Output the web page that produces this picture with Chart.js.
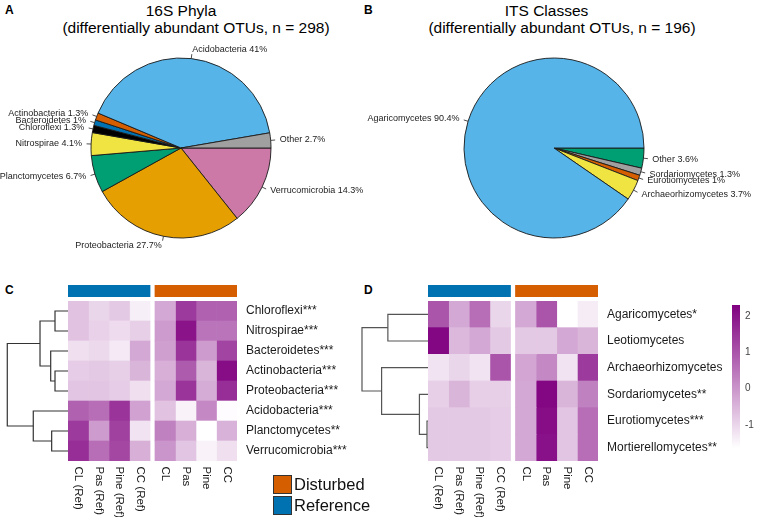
<!DOCTYPE html>
<html>
<head>
<meta charset="utf-8">
<script src="https://cdn.jsdelivr.net/npm/chart.js@4.4.0/dist/chart.umd.min.js"></script>
<style>
  body { margin: 0; width: 758px; height: 524px; position: relative; overflow: hidden; background: #fff;
         font-family: "Liberation Sans", Arial, sans-serif; }
  canvas { position: absolute; }
  .tag { position: absolute; font-weight: bold; font-size: 12px; line-height: 14px; color: #000; }
  .ttl { position: absolute; width: 400px; text-align: center; font-size: 15.5px; line-height: 17px; color: #000; white-space: nowrap; }
  .key { position: absolute; left: 273px; width: 19px; height: 19px; box-sizing: border-box; border: 1px solid #333; }
  .keytxt { position: absolute; left: 294px; font-size: 16.5px; line-height: 19px; color: #111; }
</style>
</head>
<body>
<div class="tag" style="left:5px;top:3px">A</div>
<div class="tag" style="left:364px;top:3px">B</div>
<div class="tag" style="left:5px;top:283px">C</div>
<div class="tag" style="left:364px;top:283px">D</div>

<div class="ttl" style="left:-19px;top:2px">16S Phyla</div>
<div class="ttl" style="left:-4px;top:18.5px">(differentially abundant OTUs, n = 298)</div>
<div class="ttl" style="left:346.5px;top:2px">ITS Classes</div>
<div class="ttl" style="left:362px;top:18.5px">(differentially abundant OTUs, n = 196)</div>

<canvas id="pieA" width="402" height="256" style="left:-20px;top:0"></canvas>
<canvas id="pieB" width="408" height="256" style="left:350px;top:0"></canvas>

<canvas id="stripC" width="169" height="12" style="left:68px;top:285px"></canvas>
<canvas id="dendC" width="68" height="160" style="left:0;top:301px"></canvas>
<canvas id="heatC" width="284" height="216" style="left:68px;top:301px"></canvas>

<canvas id="stripD" width="170" height="12" style="left:428px;top:285px"></canvas>
<canvas id="dendD" width="73" height="160" style="left:355px;top:301px"></canvas>
<canvas id="heatD" width="300" height="216" style="left:428px;top:301px"></canvas>
<canvas id="scaleD" width="30" height="153" style="left:728px;top:300px"></canvas>

<div class="key" style="top:475px;background:#D55E00"></div>
<div class="keytxt" style="top:475px">Disturbed</div>
<div class="key" style="top:496px;background:#0072B2"></div>
<div class="keytxt" style="top:496px">Reference</div>

<script>
// pie A: 16S phyla, in counter-clockwise order starting at 3 o'clock
const phylaNames = ['Other', 'Acidobacteria', 'Actinobacteria', 'Bacteroidetes', 'Chloroflexi',
                    'Nitrospirae', 'Planctomycetes', 'Proteobacteria', 'Verrucomicrobia'];
const phylaPct = [2.7, 41, 1.3, 1, 1.3, 4.1, 6.7, 27.7, 14.3];
const phylaColors = ['#A0A0A0', '#56B4E9', '#D55E00', '#0072B2', '#000000',
                     '#F0E442', '#009E73', '#E69F00', '#CC79A7'];

// pie B: ITS classes
const classNames = ['Agaricomycetes', 'Archaeorhizomycetes', 'Eurotiomycetes', 'Sordariomycetes', 'Other'];
const classPct = [90.4, 3.7, 1, 1.3, 3.6];
const classColors = ['#56B4E9', '#F0E442', '#D55E00', '#A0A0A0', '#009E73'];

// heatmap columns (shared)
const sites = ['CL (Ref)', 'Pas (Ref)', 'Pine (Ref)', 'CC (Ref)', 'CL', 'Pas', 'Pine', 'CC'];
const siteGroups = ['Reference', 'Disturbed'];
const groupColors = ['#0072B2', '#D55E00'];

// heatmap C
const rowsC = ['Chloroflexi***', 'Nitrospirae***', 'Bacteroidetes***', 'Actinobacteria***',
               'Proteobacteria***', 'Acidobacteria***', 'Planctomycetes**', 'Verrucomicrobia***'];
const heatC = [
  [-0.7, -1.0, -0.8, -1.4, -0.3, 1.4, 0.8, 0.8],
  [-0.7, -0.95, -1.1, -0.9, -0.1, 2.0, 0.5, 0.5],
  [-1.15, -1.05, -1.3, -0.3, -0.15, 1.5, -0.1, 1.25],
  [-0.85, -0.8, -0.9, -0.5, -0.4, 0.9, -0.5, 2.1],
  [-0.75, -0.75, -0.85, -1.15, -0.3, 1.5, -0.35, 1.6],
  [0.8, 0.6, 1.5, -0.2, -0.7, -1.45, 0.2, -1.6],
  [1.4, -0.1, 1.3, -1.2, 0.3, -0.4, -1.64, -0.45],
  [1.6, 0.6, 1.2, -0.4, 0.0, -0.75, -1.45, -1.15]
];
// row dendrogram: [left, right, height]; negative = row number, positive = earlier merge
const treeC = [[-1, -2, 0.214], [-4, -5, 0.214], [-3, 2, 0.285], [1, 3, 0.461],
               [-7, -8, 0.269], [-6, 5, 0.572], [4, 6, 1.0]];

// heatmap D
const rowsD = ['Agaricomycetes*', 'Leotiomycetes', 'Archaeorhizomycetes',
               'Sordariomycetes**', 'Eurotiomycetes***', 'Mortierellomycetes**'];
const heatD = [
  [1.0, -0.3, 0.6, -1.0, -0.3, 1.0, -1.7, -1.35],
  [2.2, -0.55, -0.3, -0.8, -0.8, -0.8, -0.3, -0.5],
  [-1.2, -1.0, -1.2, 1.0, -0.25, 0.2, -1.2, 1.4],
  [-0.9, -0.5, -0.9, -0.9, -0.3, 2.2, -0.5, 0.3],
  [-0.8, -0.8, -0.8, -0.85, -0.3, 2.1, -0.75, 0.6],
  [-0.8, -0.8, -0.8, -0.85, -0.3, 2.05, -0.75, 0.6]
];
const treeD = [[-1, -2, 0.608], [-5, -6, 0.015], [-4, 2, 0.130], [-3, 3, 0.703], [1, 4, 1.0]];

// colour key
const colorMin = -1.64, colorMax = 2.3;
const colorTicks = [-1, 0, 1, 2];

const FONT = '"Liberation Sans", Arial, sans-serif';
const GAP = 0.24; // gap between reference and disturbed blocks, in column widths
const colStart = j => j + (j >= 4 ? GAP : 0);
const colTotal = colStart(sites.length - 1) + 1;

function heatColor(v) {
  const t = Math.min(1, Math.max(0, (v - colorMin) / (colorMax - colorMin)));
  const r = Math.round(255 - t * 127), g = Math.round(255 - t * 255), b = Math.round(255 - t * 127);
  return `rgb(${r},${g},${b})`;
}

// no extra room for half-labels at the ends of a vertical axis
const noPad = s => { s.paddingTop = 0; s.paddingBottom = 0; };

// labels outside the pie, like base R pie(): tick from r to 1.05r, text at 1.1r
const pieLabels = {
  id: 'pieLabels',
  afterDatasetsDraw(chart) {
    const ctx = chart.ctx;
    const meta = chart.getDatasetMeta(0);
    const names = chart.data.labels;
    const vals = chart.data.datasets[0].data;
    ctx.save();
    ctx.font = '9px ' + FONT;
    ctx.fillStyle = '#222';
    ctx.strokeStyle = '#222';
    ctx.lineWidth = 0.8;
    ctx.textBaseline = 'middle';
    meta.data.forEach((arc, i) => {
      const p = arc.getProps(['x', 'y', 'startAngle', 'endAngle', 'outerRadius'], true);
      const a = (p.startAngle + p.endAngle) / 2;
      const c = Math.cos(a), s = Math.sin(a), r = p.outerRadius;
      ctx.beginPath();
      ctx.moveTo(p.x + c * r, p.y + s * r);
      ctx.lineTo(p.x + c * r * 1.05, p.y + s * r * 1.05);
      ctx.stroke();
      ctx.textAlign = c < 0 ? 'right' : 'left';
      ctx.fillText(names[i] + ' ' + vals[i] + '%', p.x + c * r * 1.1, p.y + s * r * 1.1);
    });
    ctx.restore();
  }
};

function makePie(id, names, pct, colors) {
  // chart.js draws clockwise, so reverse the order to get R's counter-clockwise pie
  return new Chart(document.getElementById(id), {
    type: 'pie',
    data: {
      labels: names.slice().reverse(),
      datasets: [{
        data: pct.slice().reverse(),
        backgroundColor: colors.slice().reverse(),
        borderColor: '#1a1a1a',
        borderWidth: 0.9,
        radius: 90
      }]
    },
    options: {
      responsive: false,
      animation: false,
      rotation: 90,
      radius: 90,
      layout: { padding: { top: 40 } },
      plugins: { legend: { display: false }, tooltip: { enabled: false } }
    },
    plugins: [pieLabels]
  });
}

makePie('pieA', phylaNames, phylaPct, phylaColors);
makePie('pieB', classNames, classPct, classColors);

// group strip above each heatmap
function makeStrip(id) {
  return new Chart(document.getElementById(id), {
    type: 'bar',
    data: {
      labels: ['group'],
      datasets: siteGroups.map((g, k) => ({
        label: g,
        data: [[colStart(k * 4), colStart(k * 4 + 3) + 1]],
        backgroundColor: groupColors[k],
        grouped: false,
        barPercentage: 1,
        categoryPercentage: 1
      }))
    },
    options: {
      indexAxis: 'y',
      responsive: false,
      animation: false,
      plugins: { legend: { display: false }, tooltip: { enabled: false } },
      scales: {
        x: { type: 'linear', min: 0, max: colTotal, display: false },
        y: { display: false }
      }
    }
  });
}

// row dendrogram as line segments
function makeDendro(id, tree, nRows, xMax, color) {
  const pos = [], hgt = [];
  const node = k => (k < 0 ? { y: -k, h: 0 } : { y: pos[k - 1], h: hgt[k - 1] });
  const datasets = tree.map(([a, b, h], k) => {
    const A = node(a), B = node(b);
    pos[k] = (A.y + B.y) / 2;
    hgt[k] = h;
    return {
      data: [{ x: A.h, y: A.y }, { x: h, y: A.y }, { x: h, y: B.y }, { x: B.h, y: B.y }],
      showLine: true,
      borderColor: color,
      borderWidth: 1.2,
      pointRadius: 0
    };
  });
  return new Chart(document.getElementById(id), {
    type: 'scatter',
    data: { datasets },
    options: {
      responsive: false,
      animation: false,
      plugins: { legend: { display: false }, tooltip: { enabled: false } },
      scales: {
        x: { type: 'linear', min: 0, max: xMax, reverse: true, display: false },
        y: { type: 'linear', min: 0.5, max: nRows + 0.5, reverse: true, display: false }
      }
    }
  });
}

// rotated site names under the heatmap
const colLabels = {
  id: 'colLabels',
  afterDraw(chart) {
    const { ctx, chartArea } = chart;
    const x = chart.scales.x;
    ctx.save();
    ctx.font = '11.5px ' + FONT;
    ctx.fillStyle = '#1a1a1a';
    ctx.textAlign = 'left';
    ctx.textBaseline = 'middle';
    sites.forEach((s, j) => {
      ctx.save();
      ctx.translate(x.getPixelForValue(colStart(j) + 0.5), chartArea.bottom + 5.5);
      ctx.rotate(Math.PI / 2);
      ctx.fillText(s, 0, 0);
      ctx.restore();
    });
    ctx.restore();
  }
};

function makeHeat(id, rows, vals, axisW) {
  const datasets = sites.map((s, j) => ({
    label: s,
    data: rows.map(() => [colStart(j), colStart(j) + 1]),
    backgroundColor: rows.map((r, i) => heatColor(vals[i][j])),
    borderWidth: 0,
    grouped: false,
    barPercentage: 1,
    categoryPercentage: 1
  }));
  return new Chart(document.getElementById(id), {
    type: 'bar',
    data: { labels: rows, datasets },
    options: {
      indexAxis: 'y',
      responsive: false,
      animation: false,
      plugins: { legend: { display: false }, tooltip: { enabled: false } },
      scales: {
        x: {
          type: 'linear', min: 0, max: colTotal,
          ticks: { display: false },
          grid: { display: false, drawTicks: false },
          border: { display: false },
          afterFit: s => { s.height = 56; s.paddingLeft = 0; s.paddingRight = 0; }
        },
        y: {
          position: 'right',
          ticks: { padding: 9, color: '#1a1a1a', font: { family: FONT, size: 12 } },
          grid: { display: false, drawTicks: false },
          border: { display: false },
          afterFit: s => { s.width = axisW; noPad(s); }
        }
      }
    },
    plugins: [colLabels]
  });
}

makeStrip('stripC');
makeDendro('dendC', treeC, rowsC.length, 1.12, '#333');
makeHeat('heatC', rowsC, heatC, 115);

makeStrip('stripD');
makeDendro('dendD', treeD, rowsD.length, 1.106, '#555');
makeHeat('heatD', rowsD, heatD, 130);

// colour key for the heatmaps
new Chart(document.getElementById('scaleD'), {
  type: 'bar',
  data: {
    labels: ['key'],
    datasets: [{
      data: [[colorMin, colorMax]],
      backgroundColor: (c) => {
        const { chart } = c;
        const area = chart.chartArea;
        if (!area) return heatColor(0);
        const y = chart.scales.y;
        const g = chart.ctx.createLinearGradient(0, y.getPixelForValue(colorMin), 0, y.getPixelForValue(colorMax));
        g.addColorStop(0, heatColor(colorMin));
        g.addColorStop(1, heatColor(colorMax));
        return g;
      },
      barPercentage: 1,
      categoryPercentage: 1
    }]
  },
  options: {
    responsive: false,
    animation: false,
    layout: { padding: { top: 5, bottom: 5, left: 4 } },
    plugins: { legend: { display: false }, tooltip: { enabled: false } },
    scales: {
      x: { display: false },
      y: {
        type: 'linear', min: colorMin, max: colorMax, position: 'right',
        afterBuildTicks: s => { s.ticks = colorTicks.map(v => ({ value: v })); },
        ticks: { padding: 5, color: '#444', font: { family: FONT, size: 10 } },
        grid: { display: false, drawTicks: false },
        border: { display: false },
        afterFit: s => { s.width = 18; noPad(s); }
      }
    }
  }
});
</script>
</body>
</html>
